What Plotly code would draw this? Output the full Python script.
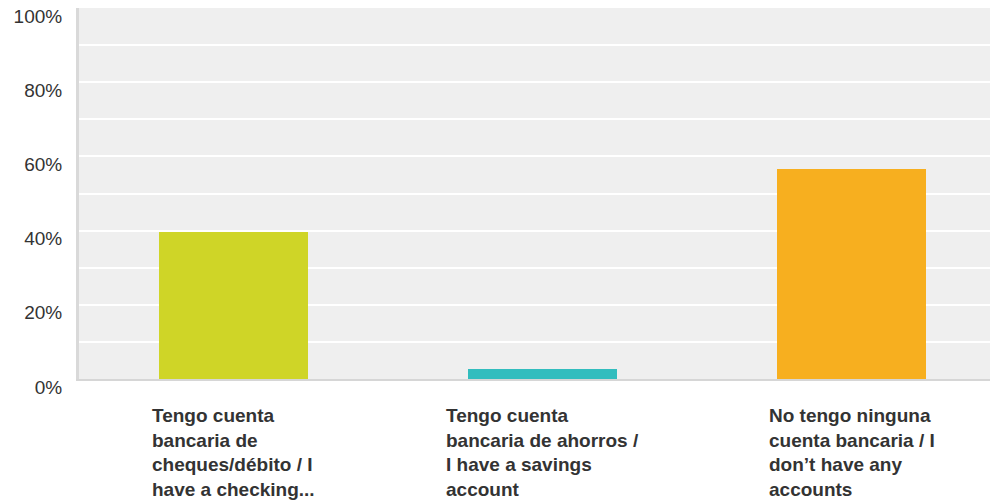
import plotly.graph_objects as go

categories = [
    "Tengo cuenta<br>bancaria de<br>cheques/débito / I<br>have a checking...",
    "Tengo cuenta<br>bancaria de ahorros /<br>I have a savings<br>account",
    "No tengo ninguna<br>cuenta bancaria / I<br>don’t have any<br>accounts",
]
values = [39.6, 2.8, 56.6]
colors = ["#CFD527", "#32BDBE", "#F7AF1F"]
tick_vals = [0, 20, 40, 60, 80, 100]
tick_text = ["0%", "20%", "40%", "60%", "80%", "100%"]

x = [0, 1, 2]

fig = go.Figure()
fig.add_trace(go.Bar(x=x, y=values, marker=dict(color=colors, line=dict(width=0)),
                     width=0.482, hoverinfo="skip"))

# category labels: left-aligned text blocks centred under each bar
for i, txt in enumerate(categories):
    fig.add_annotation(x=x[i], y=0, xref="x", yref="paper",
                       text=txt, showarrow=False, align="left",
                       xanchor="center", yanchor="top", yshift=-24,
                       font=dict(family="Liberation Sans, Arial", size=19,
                                 color="#333333", weight="bold"))

fig.update_layout(
    width=990, height=504,
    margin=dict(l=79, r=0, t=8, b=125, autoexpand=False),
    paper_bgcolor="white",
    plot_bgcolor="#EFEFEF",
    showlegend=False,
    bargap=0,
    font=dict(family="Liberation Sans, Arial", size=18, color="#333333"),
    xaxis=dict(range=[-0.5, 2.448], showticklabels=False, showgrid=False,
               zeroline=False, showline=True, linecolor="#D6D6D6", linewidth=2,
               fixedrange=True, automargin=False),
    yaxis=dict(range=[0, 100.01], tickvals=tick_vals, ticktext=tick_text,
               showgrid=True, gridcolor="white", gridwidth=2,
               minor=dict(dtick=10, showgrid=True, gridcolor="white", gridwidth=2),
               zeroline=False, showline=True, linecolor="#D9D9D9", linewidth=3,
               ticks="", ticklabelstandoff=10, ticklabelshift=8,
               ticklabeloverflow="allow", automargin=False,
               tickfont=dict(size=19, color="#333333"), fixedrange=True),
)

# drop the default 8px page margin so the figure sits at the window's corner
fig.write_html("out.html", config={"displayModeBar": False},
               post_script="document.body.style.margin='0';")
